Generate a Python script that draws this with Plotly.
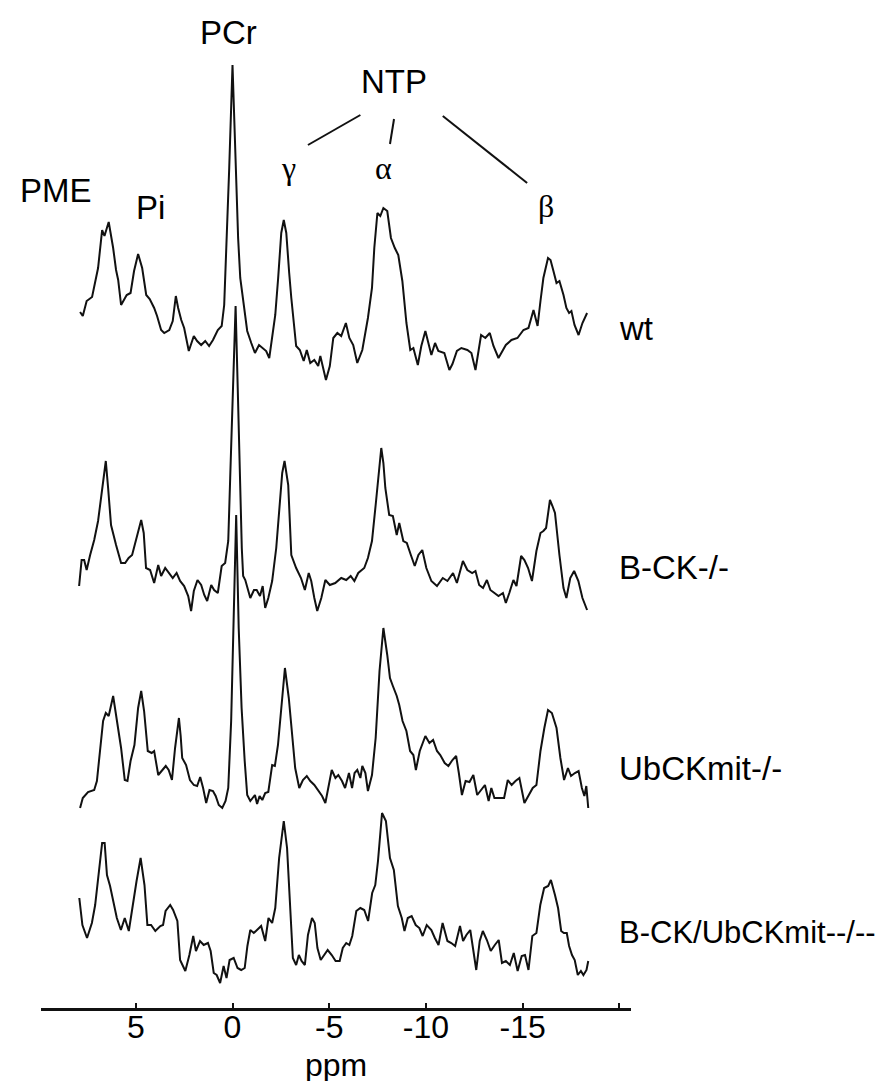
import plotly.graph_objects as go

# ---------------- data ----------------
# chemical shift (ppm) and intensity (arbitrary units, relative to each baseline)
ppm_wt = [7.88, 7.74, 7.54, 7.26, 6.95, 6.74, 6.62, 6.40, 6.17, 6.02, 5.91, 5.76, 5.47, 5.27, 5.09, 4.88,
          4.67, 4.46, 4.28, 4.05, 3.90, 3.69, 3.53, 3.27, 3.09, 2.93, 2.81, 2.65, 2.50, 2.26, 2.00, 1.83,
          1.62, 1.41, 1.21, 1.01, 0.76, 0.56, 0.43, 0.27, 0.17, 0.00, -0.17, -0.29, -0.40, -0.55, -0.76,
          -0.97, -1.16, -1.37, -1.54, -1.74, -1.90, -2.05, -2.21, -2.36, -2.52, -2.65, -2.78, -2.93, -3.04,
          -3.29, -3.48, -3.68, -3.84, -4.02, -4.23, -4.43, -4.54, -4.83, -5.03, -5.21, -5.42, -5.62, -5.86,
          -6.04, -6.24, -6.45, -6.71, -7.00, -7.21, -7.33, -7.49, -7.64, -7.80, -8.00, -8.19, -8.39, -8.57,
          -8.78, -8.99, -9.19, -9.35, -9.58, -9.76, -9.97, -10.12, -10.28, -10.47, -10.64, -10.95, -11.21,
          -11.37, -11.60, -11.83, -12.14, -12.35, -12.56, -12.85, -13.07, -13.30, -13.49, -13.75, -13.95,
          -14.13, -14.42, -14.73, -15.04, -15.30, -15.56, -15.77, -15.92, -16.07, -16.31, -16.44, -16.59,
          -16.75, -16.90, -17.11, -17.26, -17.40, -17.52, -17.68, -17.89, -18.09, -18.33]
int_wt = [41, 37, 52, 56, 85, 123, 117, 131, 105, 83, 73, 48, 58, 60, 82, 99,
          85, 58, 54, 45, 37, 23, 20, 23, 32, 57, 45, 33, 25, 2, 17, 12,
          8, 12, 7, 13, 23, 27, 48, 125, 185, 288, 185, 115, 75, 55, 22,
          10, 0, 8, 5, 2, -5, 15, 38, 75, 120, 133, 120, 80, 55,
          7, 3, -8, 3, -10, -7, -13, -3, -27, -13, 15, 20, 17, 30,
          15, 8, -10, 3, 35, 65, 105, 140, 137, 145, 142, 115, 105, 98,
          72, 30, 3, 5, -12, 7, 22, 10, -2, 10, 2, 0, -17,
          -11, 2, 5, 3, 0, -17, 18, 15, 20, 7, -5, 2,
          8, 13, 15, 23, 25, 43, 27, 52, 75, 95, 93, 82,
          70, 72, 58, 45, 40, 42, 28, 18, 30, 40]

ppm_bck = [7.93, 7.80, 7.67, 7.54, 7.36, 7.15, 6.95, 6.74, 6.55, 6.43, 6.28, 6.02, 5.76, 5.55, 5.37, 5.19,
           4.98, 4.72, 4.59, 4.47, 4.26, 4.05, 3.84, 3.69, 3.48, 3.27, 3.09, 2.89, 2.71, 2.50, 2.29, 2.14,
           2.00, 1.81, 1.62, 1.46, 1.31, 1.10, 0.95, 0.76, 0.56, 0.38, 0.22, 0.12, -0.01, -0.16, -0.27,
           -0.37, -0.48, -0.55, -0.66, -0.92, -1.11, -1.25, -1.42, -1.56, -1.69, -1.85, -2.05, -2.26, -2.45,
           -2.57, -2.69, -2.80, -2.88, -3.04, -3.29, -3.54, -3.74, -3.94, -4.07, -4.23, -4.38, -4.59, -4.80,
           -5.03, -5.31, -5.62, -5.88, -6.11, -6.30, -6.50, -6.81, -7.00, -7.21, -7.40, -7.54, -7.69, -7.80,
           -7.90, -8.10, -8.29, -8.49, -8.62, -8.83, -9.01, -9.22, -9.42, -9.61, -9.81, -10.02, -10.28,
           -10.57, -10.87, -11.11, -11.40, -11.60, -11.91, -12.14, -12.39, -12.56, -12.75, -12.95, -13.15,
           -13.33, -13.54, -13.75, -13.98, -14.13, -14.31, -14.52, -14.68, -14.92, -15.09, -15.28, -15.48,
           -15.71, -15.92, -16.07, -16.21, -16.41, -16.54, -16.67, -16.90, -17.11, -17.26, -17.46, -17.66,
           -17.88, -18.09, -18.33]
int_bck = [2, 28, 28, 18, 33, 48, 67, 100, 127, 100, 63, 43, 25, 25, 30, 33,
           50, 68, 55, 20, 18, 5, 23, 12, 20, 15, 10, 15, 7, 2, -8, -23,
           -3, 8, 3, -7, -13, 3, -2, -5, 22, 25, 47, 110, 200, 282, 200,
           110, 40, 12, 8, -10, -2, -2, -8, 2, -20, -10, 7, 40, 83,
           115, 127, 115, 103, 33, 20, 10, -2, 15, 7, -10, -23, -10, 8,
           3, 5, 10, 8, 12, 7, 15, 20, 30, 47, 83, 110, 140, 125,
           100, 73, 72, 53, 65, 47, 45, 33, 22, 33, 38, 20, 7,
           2, 10, 7, 15, 5, 27, 18, 15, 17, 3, 0, 8,
           -2, -5, -8, -5, -15, -5, 8, 2, 32, 28, 20, 7,
           37, 55, 57, 60, 88, 82, 75, 33, 0, -10, 10, 17,
           7, -10, -22]

ppm_ubck = [7.88, 7.74, 7.47, 7.15, 7.01, 6.85, 6.69, 6.55, 6.40, 6.17, 5.96, 5.76, 5.57, 5.43, 5.27, 5.07,
            4.88, 4.72, 4.57, 4.38, 4.18, 4.05, 3.84, 3.65, 3.45, 3.30, 3.13, 2.97, 2.77, 2.68, 2.60, 2.40,
            2.20, 2.00, 1.83, 1.67, 1.52, 1.36, 1.19, 1.01, 0.87, 0.71, 0.53, 0.36, 0.22, 0.07, -0.06,
            -0.19, -0.32, -0.47, -0.63, -0.76, -0.92, -1.05, -1.16, -1.27, -1.40, -1.54, -1.69, -1.85, -2.05,
            -2.19, -2.35, -2.49, -2.71, -2.91, -3.05, -3.24, -3.45, -3.64, -3.84, -4.02, -4.23, -4.43, -4.63,
            -4.80, -4.93, -5.13, -5.32, -5.47, -5.66, -5.82, -6.02, -6.18, -6.31, -6.45, -6.61, -6.71, -6.87,
            -7.00, -7.21, -7.40, -7.60, -7.80, -8.00, -8.14, -8.29, -8.49, -8.62, -8.79, -8.99, -9.18, -9.35,
            -9.48, -9.68, -9.81, -9.97, -10.18, -10.37, -10.57, -10.74, -10.97, -11.16, -11.37, -11.56, -11.70,
            -11.86, -12.05, -12.25, -12.45, -12.65, -12.81, -13.05, -13.24, -13.38, -13.54, -13.75, -14.04,
            -14.23, -14.43, -14.63, -14.83, -15.09, -15.30, -15.52, -15.71, -15.92, -16.12, -16.31, -16.51,
            -16.75, -16.95, -17.14, -17.34, -17.50, -17.70, -17.89, -18.06, -18.19, -18.29, -18.39]
int_ubck = [-20, -10, -4, -2, 7, 37, 67, 75, 72, 92, 67, 40, 8, 7, 27, 43,
            80, 97, 77, 37, 35, 37, 13, 17, 22, 18, 8, 40, 70, 52, 30, 23,
            8, 3, 2, 11, 0, -15, -2, -3, -8, -17, -20, -13, 0, 67, 160,
            273, 160, 80, 27, -7, -13, -10, -7, -16, -8, -12, -5, -4, 23,
            22, 43, 73, 120, 90, 57, 20, 0, 8, 12, 7, 3, -3, -8,
            -15, -3, 18, 10, 13, 7, 0, 15, 0, 15, 18, 10, 22, 15,
            -3, 13, 50, 117, 160, 133, 110, 102, 92, 83, 67, 57, 37, 33,
            18, 37, 43, 52, 45, 48, 37, 33, 25, 22, 28, 32, 15,
            -7, 7, 6, 13, -7, -3, 3, -13, 0, -10, -10, -10,
            8, 3, 7, 10, -15, -7, 0, 3, 37, 60, 78, 75,
            60, 30, 8, 20, 12, 15, 17, 0, -8, 2, -20]

ppm_dko = [7.92, 7.76, 7.52, 7.27, 7.10, 6.94, 6.74, 6.61, 6.49, 6.33, 6.18, 5.98, 5.77, 5.57, 5.36, 5.16,
           4.96, 4.75, 4.55, 4.40, 4.21, 3.99, 3.73, 3.59, 3.46, 3.22, 3.07, 2.85, 2.71, 2.44, 2.23, 2.03,
           1.89, 1.68, 1.49, 1.27, 1.13, 0.97, 0.82, 0.64, 0.46, 0.31, 0.15, -0.06, -0.26, -0.45, -0.63,
           -0.77, -0.92, -1.10, -1.28, -1.48, -1.69, -1.86, -2.05, -2.21, -2.41, -2.65, -2.82, -2.96, -3.12,
           -3.29, -3.43, -3.57, -3.74, -3.90, -4.11, -4.25, -4.39, -4.56, -4.72, -4.92, -5.13, -5.33, -5.54,
           -5.70, -5.88, -6.04, -6.19, -6.40, -6.61, -6.81, -7.01, -7.22, -7.38, -7.52, -7.73, -7.93, -8.14,
           -8.34, -8.55, -8.75, -8.89, -9.06, -9.26, -9.47, -9.66, -9.83, -10.04, -10.28, -10.46, -10.65,
           -10.86, -11.11, -11.31, -11.51, -11.76, -11.92, -12.09, -12.29, -12.43, -12.60, -12.78, -12.94,
           -13.15, -13.35, -13.56, -13.76, -13.93, -14.13, -14.34, -14.54, -14.74, -14.95, -15.12, -15.30,
           -15.50, -15.71, -15.91, -16.11, -16.32, -16.46, -16.67, -16.83, -16.99, -17.13, -17.28, -17.40,
           -17.55, -17.69, -17.85, -18.01, -18.14, -18.30, -18.39]
int_dko = [50, 23, 10, 25, 43, 68, 105, 105, 73, 62, 47, 30, 18, 30, 17, 43,
           67, 90, 63, 23, 23, 17, 22, 23, 37, 43, 38, 27, -12, -23, -7, 12,
           -3, 7, 3, 5, -3, -25, -27, -35, -18, -30, -12, -10, -20, -22, -20,
           2, 18, 15, 18, 22, 7, 30, 25, 40, 90, 127, 100, 47, -10,
           -17, -7, -13, -17, 13, 30, 25, 0, -12, -7, -2, -7, -13, -13,
           0, 5, 3, 12, 37, 40, 38, 27, 55, 63, 87, 135, 127, 90,
           78, 42, 30, 17, 30, 32, 23, 20, 12, 23, 18, 10, 3,
           25, 7, 5, 2, 22, 7, 13, 18, 0, -22, 7, 17,
           8, -3, 3, 8, -15, -13, -17, -5, -23, -8, -7, -22,
           12, 15, 43, 60, 62, 68, 53, 40, 17, 15, 15, 2,
           -7, -12, -27, -23, -27, -22, -13]

series_names = ["wt", "B-CK-/-", "UbCKmit-/-", "B-CK/UbCKmit--/--"]
spectra = [(ppm_wt, int_wt), (ppm_bck, int_bck), (ppm_ubck, int_ubck), (ppm_dko, int_dko)]
offsets = [655, 420, 220, 60]          # vertical stacking offsets of the baselines
label_y = [680, 441, 240, 76]          # vertical position of the right-hand labels
label_size = [33, 33, 33, 31]

tick_vals = [5, 0, -5, -10, -15, -20]
tick_text = ["5", "0", "-5", "-10", "-15", ""]
axis_title = "ppm"

peak_labels = ["PME", "Pi", "PCr", "NTP"]
peak_label_ppm = [9.12, 4.23, 0.22, -8.37]
peak_label_y = [818, 801, 976, 927]
greek_labels = ["γ", "α", "β"]
greek_ppm = [-2.88, -7.82, -16.2]
greek_y = [840, 840, 802]

# ---------------- figure ----------------
SANS = "Arial, 'Liberation Sans', Helvetica, sans-serif"
SERIF = "'Times New Roman', 'Liberation Serif', serif"
FS = 33

fig = go.Figure()
for name, (xs, ys), off in zip(series_names, spectra, offsets):
    fig.add_trace(go.Scatter(
        x=xs, y=[off + v for v in ys], mode="lines", name=name,
        line=dict(color="#111111", width=2), hoverinfo="skip"))

annotations = []
for txt, xp, yp in zip(peak_labels, peak_label_ppm, peak_label_y):
    annotations.append(dict(x=xp, y=yp, xref="x", yref="y", text=txt, showarrow=False,
                            xanchor="center", yanchor="middle",
                            font=dict(family=SANS, size=FS, color="#000")))
for txt, xp, yp in zip(greek_labels, greek_ppm, greek_y):
    annotations.append(dict(x=xp, y=yp, xref="x", yref="y", text=txt, showarrow=False,
                            xanchor="center", yanchor="middle",
                            font=dict(family=SERIF, size=32, color="#000")))
for txt, yp, sz in zip(series_names, label_y, label_size):
    annotations.append(dict(x=-19.95, y=yp, xref="x", yref="y", text=txt, showarrow=False,
                            xanchor="left", yanchor="middle", borderpad=0,
                            font=dict(family=SANS, size=sz, color="#000")))
# x-axis title (placed just below the tick labels)
annotations.append(dict(x=0.5, y=-0.057, xref="paper", yref="paper", text=axis_title,
                        showarrow=False, xanchor="center", yanchor="middle", borderpad=0,
                        font=dict(family=SANS, size=32, color="#000")))

# NTP connector lines
ntp_lines = [((-6.61, 893), (-3.90, 863)),
             ((-8.35, 889), (-8.14, 864)),
             ((-10.87, 892), (-15.23, 825))]
shapes = [dict(type="line", xref="x", yref="y", x0=a[0], y0=a[1], x1=b[0], y1=b[1],
               line=dict(color="#111111", width=2)) for a, b in ntp_lines]

fig.update_layout(
    width=893, height=1081,
    margin=dict(l=33, r=270, t=0, b=81, autoexpand=False),
    paper_bgcolor="white", plot_bgcolor="white",
    showlegend=False,
    annotations=annotations, shapes=shapes,
    xaxis=dict(range=[9.9, -20.6], showline=True, linecolor="#111111", linewidth=2.5,
               ticks="inside", ticklen=5, tickwidth=2, tickcolor="#111111",
               tickvals=tick_vals, ticktext=tick_text, showgrid=False, zeroline=False,
               tickfont=dict(family=SANS, size=32, color="#000"),
               ticklabelstandoff=-11,
               automargin=False, fixedrange=True),
    yaxis=dict(range=[0, 1000], visible=False, fixedrange=True),
)

fig.write_html("out.html")
